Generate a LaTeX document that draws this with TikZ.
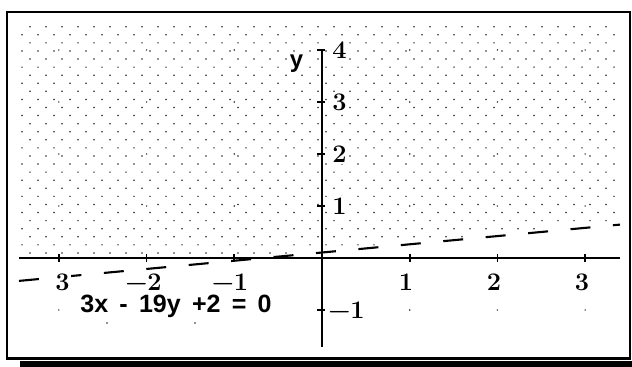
\documentclass[tikz,border=0pt]{standalone}
\usepackage{fontspec}
\newfontfamily\eqfont{Liberation Sans}
\tikzset{
  numlabel/.style={font=\fontsize{18}{18}\selectfont\bfseries, fill=white, inner sep=1pt},
  axisline/.style={line width=1.4pt},
  tickline/.style={line width=1.2pt},
  dotmark/.style={fill=black!85},
}
\begin{document}
\begin{tikzpicture}[x=0.025cm, y=-0.025cm]
  \useasboundingbox (0,0) rectangle (632,367);
  % frame and its shadow
  \fill (20,361) rectangle (632,367);
  \draw[line width=1.8pt, fill=white] (7,12) rectangle (630,358.5);
  % dotted half plane above the line
  \foreach \j in {0,...,28}{
    \foreach \k in {0,...,37}{
      \pgfmathsetmacro\dotx{22+8*(1-mod(\j,2))+16*\k}
      \pgfmathsetmacro\doty{26.7+8.08*\j}
      \pgfmathsetmacro\ymax{min(258-52*(3*(\dotx-322)/87.7+2)/19,258)-2.5}
      \pgfmathtruncatemacro\ok{(\doty<\ymax)*(\dotx<615)}
      \ifnum\ok=1 \fill[dotmark] (\dotx,\doty) circle (0.6pt);\fi
    }
  }
  % grid points
  \foreach \i in {-3,-2,-1,1,2,3}
    \foreach \j in {-1,1,2,3,4}
      \fill[dotmark] (322+87.7*\i,258-52*\j) circle (0.6pt);
  % axes
  \coordinate (xl) at (19,258);
  \coordinate (xr) at (620,258);
  \coordinate (yb) at (322,347);
  \coordinate (yt) at (322,49);
  \draw[axisline] (xl) -- (xr);
  \draw[axisline] (yb) -- (yt);
  \foreach \i in {-3,-2,-1,1,2,3}
    \draw[tickline] (322+87.7*\i,254) -- ++(0,8);
  \foreach \j in {-1,1,2,3,4}
    \draw[tickline] (317,258-52*\j) -- ++(8,0);
  % the line 3x-19y+2=0
  \coordinate (ll) at (19,280.9);
  \coordinate (lr) at (620,224.6);
  \draw[line width=1.5pt, dash pattern=on 0.5cm off 0.565cm] (ll) -- (lr);
  % labels
  \node[numlabel] (xa) at (62.5,282) {3};
  \node[numlabel] (xb) at (143.5,282) {−2};
  \node[numlabel] (xc) at (230,282) {−1};
  \node[numlabel] (x1) at (406,282) {1};
  \node[numlabel] (x2) at (494,282) {2};
  \node[numlabel] (x3) at (582,282) {3};
  \node[numlabel] (y1) at (339.5,206) {1};
  \node[numlabel] (y2) at (339.5,154) {2};
  \node[numlabel] (y3) at (339.5,102) {3};
  \node[numlabel] (y4) at (339.5,50) {4};
  \node[numlabel] (ym) at (346.5,310) {−1};
  \node[numlabel, font=\eqfont\fontsize{17}{17}\selectfont\bfseries] (ylab) at (296.5,64) {y};
  \node[fill=white, inner sep=1pt, font=\eqfont\fontsize{17.8}{18}\selectfont\bfseries] (eq) at (176,306.5)
    {\spaceskip=0.45em 3x - 19y +2 = 0};
  \fill[dotmark] (107,323) circle (0.6pt);
  \fill[dotmark] (195,323) circle (0.6pt);
\end{tikzpicture}
\end{document}
